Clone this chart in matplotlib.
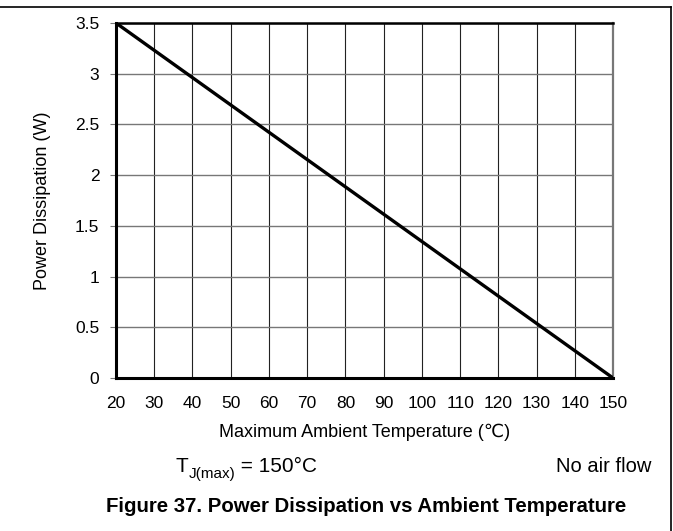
import numpy as np
import matplotlib.pyplot as plt
from matplotlib.lines import Line2D

plt.rcParams['font.family'] = ['Liberation Sans', 'DejaVu Sans']

# ── Data ──────────────────────────────────────────────────────────────────────
temp_c = [20, 150]        # ambient temperature (°C)
power_w = [3.5, 0.0]      # power dissipation (W)
x_ticks = list(range(20, 151, 10))
y_ticks = [0, 0.5, 1, 1.5, 2, 2.5, 3, 3.5]
y_labels = ['0', '0.5', '1', '1.5', '2', '2.5', '3', '3.5']

W, H = 673, 531
fig = plt.figure(figsize=(W / 100, H / 100), dpi=100)
ax = fig.add_axes([116 / W, 1 - 378 / H, (613 - 116) / W, (378 - 23) / H])

ax.plot(temp_c, power_w, color='black', lw=2.4, solid_capstyle='butt', zorder=3)

ax.set_xlim(20, 150)
ax.set_ylim(0, 3.5)
ax.set_xticks(x_ticks)
ax.set_yticks(y_ticks)
ax.set_yticklabels(y_labels)
ax.grid(axis='x', color='#222222', lw=0.8)
ax.grid(axis='y', color='#777777', lw=1.0)
ax.tick_params(axis='x', length=0, pad=13, labelsize=12.5)
ax.tick_params(axis='y', length=4, width=0.8, color='#777777', pad=8, labelsize=12.5)

for side in ('left', 'bottom'):
    ax.spines[side].set_linewidth(2.2)
    ax.spines[side].set_color('black')
ax.spines['top'].set_linewidth(1.8)
ax.spines['top'].set_color('black')
ax.spines['right'].set_linewidth(1.6)
ax.spines['right'].set_color('#777777')

ax.set_xlabel('Maximum Ambient Temperature (\u2103)', fontsize=13, labelpad=9)
ax.set_ylabel('Power Dissipation (W)', fontsize=13, labelpad=17)

# T_J(max) note: main text + larger-than-default subscript
fig.canvas.draw()
rend = fig.canvas.get_renderer()
ty = 1 - 467 / H
t1 = fig.text(176 / W, ty, 'T', fontsize=15, ha='left', va='center')
x1 = t1.get_window_extent(rend).x1 / W
t2 = fig.text(x1, ty - 7 / H, 'J(max)', fontsize=11, ha='left', va='center')
x2 = t2.get_window_extent(rend).x1 / W
fig.text(x2, ty, ' = 150°C', fontsize=15, ha='left', va='center')

fig.text(651 / W, ty, 'No air flow', fontsize=14.5, ha='right', va='center')
fig.text(366 / W, 1 - 506 / H, 'Figure 37. Power Dissipation vs Ambient Temperature',
         fontsize=14.7, fontweight='bold', ha='center', va='center')

# outer frame (top and right edges)
fig.add_artist(Line2D([0, 671 / W], [1 - 7 / H, 1 - 7 / H],
                      transform=fig.transFigure, color='black', lw=1.2))
fig.add_artist(Line2D([671 / W, 671 / W], [1 - 7 / H, 0],
                      transform=fig.transFigure, color='black', lw=1.2))

fig.savefig('out.png', dpi=100, facecolor='white')
